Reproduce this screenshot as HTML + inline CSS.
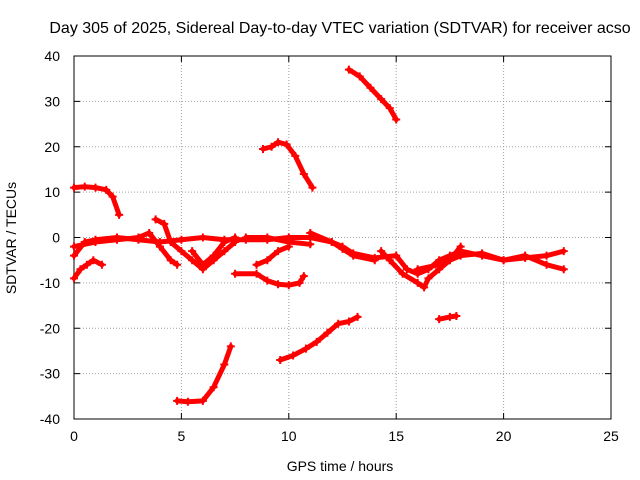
<!DOCTYPE html>
<html><head><meta charset="utf-8"><style>
body{margin:0;background:#fff;}
svg{display:block;font-family:"Liberation Sans",sans-serif;font-size:14px;}
</style></head><body>
<svg id="chart" width="640" height="480">
<text x="340" y="33" text-anchor="middle" style="font-size:16px">Day 305 of 2025, Sidereal Day-to-day VTEC variation (SDTVAR) for receiver acso</text>
<g id="grid"></g>
<g id="axes"></g>
<g id="series"></g>
<text x="340" y="471" text-anchor="middle">GPS time / hours</text>
<text transform="translate(16,238) rotate(-90)" text-anchor="middle">SDTVAR / TECUs</text>
</svg>
<script>
const xTicks=[0,5,10,15,20,25];
const yTicks=[-40,-30,-20,-10,0,10,20,30,40];
const tracks=[
[[0,11],[0.5,11.2],[1,11],[1.5,10.5],[1.8,9],[2.1,5]],
[[8.8,19.5],[9.2,20],[9.5,21],[9.9,20.5],[10.3,18],[10.7,14],[11.1,11]],
[[12.8,37],[13.3,35.5],[13.8,33],[14.3,30.5],[14.7,28.5],[15,26]],
[[4.8,-36],[5.3,-36.2],[6,-36],[6.5,-33],[7,-28],[7.3,-24]],
[[9.6,-27],[10.2,-26],[10.8,-24.5],[11.3,-23],[11.8,-21],[12.3,-19],[12.8,-18.5],[13.2,-17.5]],
[[17,-18],[17.5,-17.5],[17.8,-17.3]],
[[0,-9],[0.3,-7],[0.6,-6],[0.9,-5],[1.3,-6]],
[[0,-4],[0.5,-1],[1,-0.5],[2,0],[3,-0.5],[4,-1],[5,-0.5],[6,0],[7,-0.5],[8,-0.5],[9,-0.5],[10,0],[11,0],[12,-1],[12.5,-2],[13,-3.5],[14,-4.5],[15,-4],[15.5,-7],[16,-8],[16.5,-7],[17,-5],[17.5,-4],[18,-3],[19,-4],[20,-5],[21,-4.5],[22,-4],[22.8,-3]],
[[0,-2],[1,-1],[2,-0.5],[3,0],[3.5,1],[4,-2],[4.5,-5],[4.8,-6]],
[[3.8,4],[4.2,3],[4.5,-1],[5,-3],[5.5,-5],[6,-7],[6.5,-5],[7,-3],[7.5,-1]],
[[7.5,-8],[8.5,-8],[9,-9.5],[9.5,-10.3],[10,-10.5],[10.5,-10],[10.7,-8.5]],
[[8.5,-6],[9,-5],[9.5,-3],[10,-2]],
[[5.5,-3],[6,-6],[6.5,-4],[7,-1],[7.5,0]],
[[14.3,-3],[14.7,-5],[15.3,-8],[16,-10],[16.3,-11],[16.5,-9],[17,-7],[17.5,-5],[18,-2]],
[[16,-7],[17,-6],[18,-4],[19,-3.5],[20,-5],[21,-4],[22,-6],[22.8,-7]],
[[11,1],[12,-1],[12.5,-2.5],[13,-4],[14,-5]],
[[8,0],[9,0],[10,-1],[11,-1.5]]
];
const X0=74,X1=611,Y0=419,Y1=56;
const sx=v=>X0+(v-0)/25*(X1-X0);
const sy=v=>Y0-(v+40)/80*(Y0-Y1);
const NS="http://www.w3.org/2000/svg";
const mk=(t,a,p)=>{const e=document.createElementNS(NS,t);for(const k in a)e.setAttribute(k,a[k]);p.appendChild(e);return e;};
const grid=document.getElementById('grid'),axes=document.getElementById('axes'),series=document.getElementById('series');
xTicks.forEach(t=>{
 if(t>0&&t<25){const l=mk('line',{x1:sx(t),x2:sx(t),y1:Y1,y2:Y0,stroke:'#a0a0a0','stroke-dasharray':'1,2'},grid);
 
 }
 mk('line',{x1:sx(t),x2:sx(t),y1:Y0,y2:Y0-6,stroke:'#000'},axes);
 mk('line',{x1:sx(t),x2:sx(t),y1:Y1,y2:Y1+6,stroke:'#000'},axes);
 const tx=mk('text',{x:sx(t),y:Y0+22,'text-anchor':'middle'},axes);tx.textContent=t;
 
 
});
yTicks.forEach(t=>{
 if(t>-40&&t<40){const l=mk('line',{x1:X0,x2:X1,y1:sy(t),y2:sy(t),stroke:'#a0a0a0','stroke-dasharray':'1,2'},grid);
 
 }
 mk('line',{x1:X0,x2:X0+6,y1:sy(t),y2:sy(t),stroke:'#000'},axes);
 mk('line',{x1:X1,x2:X1-6,y1:sy(t),y2:sy(t),stroke:'#000'},axes);
 const tx=mk('text',{x:X0-14,y:sy(t)+5,'text-anchor':'end'},axes);tx.textContent=t;
 
 
});
mk('rect',{x:X0,y:Y1,width:X1-X0,height:Y0-Y1,fill:'none',stroke:'#000'},axes);
tracks.forEach(tr=>{
 const pl=mk('polyline',{points:tr.map(p=>sx(p[0])+','+sy(p[1])).join(' '),fill:'none',stroke:'#ff0000','stroke-width':5,'stroke-linejoin':'round','stroke-linecap':'round'},series);
 
 
 tr.forEach(p=>{
  const x=sx(p[0]),y=sy(p[1]);
  mk('path',{d:`M${x-4},${y}H${x+4}M${x},${y-4}V${y+4}`,stroke:'#ff0000','stroke-width':2},series);
 });
});
</script>
</body></html>
